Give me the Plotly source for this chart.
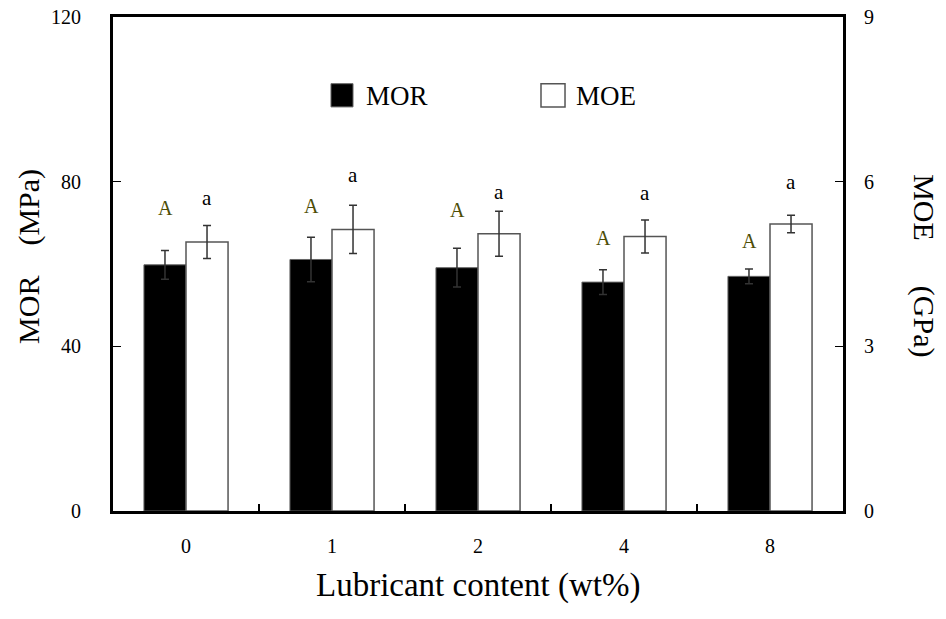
import plotly.graph_objects as go

# Data
lubricant = ["0", "1", "2", "4", "8"]
mor = [59.8, 61.1, 59.1, 55.6, 57.0]          # MPa
mor_err = [3.5, 5.4, 4.7, 3.0, 1.8]
moe = [4.90, 5.13, 5.05, 5.00, 5.23]          # GPa
moe_err = [0.30, 0.44, 0.41, 0.30, 0.16]
mor_letters = ["A", "A", "A", "A", "A"]
moe_letters = ["a", "a", "a", "a", "a"]
mor_letter_y = [73.5, 74.2, 73.2, 66.2, 65.7]  # in MOR units
moe_letter_y = [76.1, 81.5, 77.6, 77.2, 80.0]  # in MOR units

FONT = "'Times New Roman', 'Liberation Serif', serif"
BW = 0.288

fig = go.Figure()
fig.add_trace(go.Bar(
    x=lubricant, y=mor, name="MOR", yaxis="y",
    marker=dict(color="black", line=dict(color="#666666", width=1)),
    width=BW, offset=-BW,
    error_y=dict(type="data", array=mor_err, color="#333333", thickness=1.5, width=4),
    showlegend=False,
))
fig.add_trace(go.Bar(
    x=lubricant, y=moe, name="MOE", yaxis="y2",
    marker=dict(color="white", line=dict(color="#555555", width=1.5)),
    width=BW, offset=0,
    error_y=dict(type="data", array=moe_err, color="#333333", thickness=1.5, width=4),
    showlegend=False,
))

annotations = []
for i, (t, yy) in enumerate(zip(mor_letters, mor_letter_y)):
    annotations.append(dict(x=i, y=yy, xref="x", yref="y", text=t, showarrow=False,
                            xshift=-21, yanchor="middle",
                            font=dict(family=FONT, size=20, color="#4d4d05")))
for i, (t, yy) in enumerate(zip(moe_letters, moe_letter_y)):
    annotations.append(dict(x=i, y=yy, xref="x", yref="y", text=t, showarrow=False,
                            xshift=21, yanchor="middle",
                            font=dict(family=FONT, size=21, color="black")))

# axis titles
annotations.append(dict(x=0.5, y=-0.15, xref="paper", yref="paper", text="Lubricant content (wt%)",
                        showarrow=False, xanchor="center", yanchor="middle",
                        font=dict(family=FONT, size=33, color="black")))
annotations.append(dict(x=-0.116, y=0.515, xref="paper", yref="paper", text="MOR\u2003(MPa)",
                        showarrow=False, textangle=-90, xanchor="center", yanchor="middle",
                        font=dict(family=FONT, size=30, color="black")))
annotations.append(dict(x=1.11, y=0.497, xref="paper", yref="paper", text="MOE\u2003\u2002(GPa)",
                        showarrow=False, textangle=90, xanchor="center", yanchor="middle",
                        font=dict(family=FONT, size=30, color="black")))

# manual legend
annotations.append(dict(x=0.3438, y=0.841, xref="paper", yref="paper", text="MOR",
                        showarrow=False, xanchor="left", yanchor="middle",
                        font=dict(family=FONT, size=27, color="black")))
annotations.append(dict(x=0.6315, y=0.841, xref="paper", yref="paper", text="MOE",
                        showarrow=False, xanchor="left", yanchor="middle",
                        font=dict(family=FONT, size=27, color="black")))
shapes = [
    dict(type="rect", xref="paper", yref="paper", x0=0.2986, x1=0.3288, y0=0.818, y1=0.865,
         fillcolor="black", line=dict(color="#666666", width=1)),
    dict(type="rect", xref="paper", yref="paper", x0=0.5863, x1=0.6192, y0=0.818, y1=0.865,
         fillcolor="white", line=dict(color="#555555", width=1.5)),
]

fig.update_layout(
    width=946, height=619,
    margin=dict(l=113, r=103, t=17, b=108, autoexpand=False),
    paper_bgcolor="white", plot_bgcolor="white",
    font=dict(family=FONT, size=20, color="black"),
    xaxis=dict(type="category", range=[-0.5, 4.5], showline=True, linecolor="black", linewidth=3,
               mirror=True, ticks="inside", tickson="boundaries", ticklen=7, tickwidth=2,
               tickcolor="black", showgrid=False, zeroline=False, automargin=False,
               tickfont=dict(family=FONT, size=20), ticklabelstandoff=15),
    yaxis=dict(range=[0, 120], dtick=40, showline=True, linecolor="black", linewidth=3,
               ticks="inside", ticklen=8, tickwidth=1, tickcolor="black",
               showgrid=False, zeroline=False, automargin=False, ticklabeloverflow="allow",
               tickfont=dict(family=FONT, size=20), ticklabelstandoff=25),
    yaxis2=dict(range=[0, 9], dtick=3, overlaying="y", side="right", showline=True,
                linecolor="black", linewidth=3, ticks="inside", ticklen=8, tickwidth=1,
                tickcolor="black", showgrid=False, zeroline=False, automargin=False,
                ticklabeloverflow="allow",
                tickfont=dict(family=FONT, size=20), ticklabelstandoff=14),
    annotations=annotations, shapes=shapes,
)

# remove the browser's default 8px body margin so the figure fills the window exactly
fig.write_html("out.html", config={"displayModeBar": False},
               post_script="document.body.style.margin='0px';document.body.style.overflow='hidden';")
